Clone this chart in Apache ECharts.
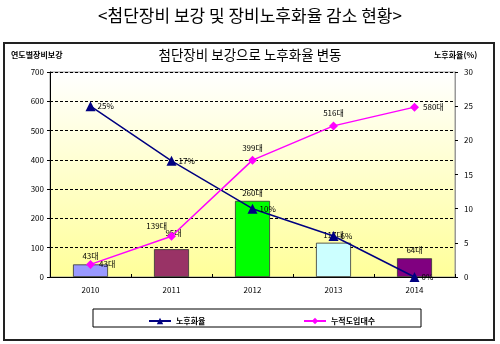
<!DOCTYPE html>
<html>
<head>
<meta charset="utf-8">
<script src="https://cdn.jsdelivr.net/npm/echarts@6/dist/echarts.min.js"></script>
<style>html,body{margin:0;padding:0;background:#fff}#c{width:500px;height:344px}</style>
</head>
<body>
<div id="c"></div>
<script>
var years = ['2010', '2011', '2012', '2013', '2014'];
var annualUnits = [43, 95, 260, 117, 64];
var cumulativeUnits = [43, 139, 399, 516, 580];
var agingRate = [25, 17, 10, 6, 0];
var leftTicks = [0, 700, 100];
var rightTicks = [0, 30, 5];
var barColors = ['#9999FF', '#993366', '#00FF00', '#CCFFFF', '#800080'];
var cumLabelPos = ['right', 'left', 'top', 'top', 'right'];

var FONT = '"Noto Sans CJK KR", "Noto Sans", sans-serif';
var chart = echarts.init(document.getElementById('c'), null, {renderer: 'canvas'});

var barData = annualUnits.map(function (v, i) {
  var d = {value: v, itemStyle: {color: barColors[i]}};
  if (i === 1) d.label = {offset: [2, -8]};
  return d;
});
var cumData = cumulativeUnits.map(function (v, i) {
  var d = {value: v, label: {position: cumLabelPos[i]}};
  if (i === 1) d.label.offset = [4, -10];
  return d;
});

chart.setOption({
  animation: false,
  textStyle: {fontFamily: FONT},
  title: [
    {text: '<첨단장비 보강 및 장비노후화율 감소 현황>', left: 'center', top: 2,
     textStyle: {fontSize: 17, fontWeight: 'normal', color: '#000', fontFamily: FONT}},
    {text: '첨단장비 보강으로 노후화율 변동', left: 'center', top: 43,
     textStyle: {fontSize: 13.5, fontWeight: 'normal', color: '#000', fontFamily: FONT}}
  ],
  graphic: [
    {type: 'rect', shape: {x: 4, y: 43, width: 490, height: 297},
     style: {fill: 'none', stroke: '#222', lineWidth: 2}, z: 100},
    {type: 'rect', shape: {x: 93, y: 309, width: 328, height: 18},
     style: {fill: 'none', stroke: '#000', lineWidth: 1}, z: 100},
    {type: 'text', left: 11, top: 51,
     style: {text: '연도별장비보강', fontSize: 8, fontWeight: 'bold', fill: '#000', fontFamily: FONT}},
    {type: 'text', left: 434, top: 51,
     style: {text: '노후화율(%)', fontSize: 8, fontWeight: 'bold', fill: '#000', fontFamily: FONT}}
  ],
  legend: [
    {data: ['노후화율'], left: 143, top: 312, itemWidth: 22, itemHeight: 8, itemGap: 4,
     textStyle: {fontSize: 8, fontWeight: 'bold', color: '#000', fontFamily: FONT}},
    {data: ['누적도입대수'], left: 298, top: 312, itemWidth: 22, itemHeight: 8, itemGap: 4,
     textStyle: {fontSize: 8, fontWeight: 'bold', color: '#000', fontFamily: FONT}}
  ],
  grid: {
    left: 50, right: 45, top: 72, bottom: 67, show: true,
    borderColor: '#999', borderWidth: 1,
    backgroundColor: new echarts.graphic.LinearGradient(0, 0, 0, 1, [
      {offset: 0, color: '#FFFFFF'}, {offset: 1, color: '#FFFF99'}
    ])
  },
  xAxis: {
    type: 'category', data: years,
    axisLine: {lineStyle: {color: '#000'}},
    axisTick: {show: true, inside: true, length: 3, lineStyle: {color: '#000'}},
    axisLabel: {fontSize: 8, color: '#000', margin: 9}
  },
  yAxis: [
    {type: 'value', min: leftTicks[0], max: leftTicks[1], interval: leftTicks[2],
     axisLine: {show: true, lineStyle: {color: '#000'}},
     axisTick: {show: true, length: 3, lineStyle: {color: '#000'}},
     axisLabel: {fontSize: 8, color: '#000', margin: 6},
     splitLine: {show: true, lineStyle: {color: '#000', type: [3, 2], width: 1}}},
    {type: 'value', min: rightTicks[0], max: rightTicks[1], interval: rightTicks[2],
     axisLine: {show: true, lineStyle: {color: '#999'}},
     axisTick: {show: true, length: 3, lineStyle: {color: '#000'}},
     axisLabel: {fontSize: 8, color: '#000', margin: 9},
     splitLine: {show: false}}
  ],
  series: [
    {name: '도입대수', type: 'bar', yAxisIndex: 0, barWidth: 35, data: barData,
     itemStyle: {borderColor: '#333', borderWidth: 0.8},
     label: {show: true, position: 'top', formatter: '{c}대', fontSize: 8, color: '#000', distance: 4}},
    {name: '노후화율', type: 'line', yAxisIndex: 1, data: agingRate,
     symbol: 'triangle', symbolSize: 10, color: '#000080',
     lineStyle: {color: '#000080', width: 1.5}, itemStyle: {color: '#000080'},
     label: {show: true, position: 'right', formatter: '{c}%', fontSize: 8, color: '#000', distance: 2}},
    {name: '누적도입대수', type: 'line', yAxisIndex: 0, data: cumData,
     symbol: 'diamond', symbolSize: 9, color: '#FF00FF',
     lineStyle: {color: '#FF00FF', width: 1.5}, itemStyle: {color: '#FF00FF'},
     label: {show: true, formatter: '{c}대', fontSize: 8, color: '#000', distance: 4}}
  ]
});
</script>
</body>
</html>
